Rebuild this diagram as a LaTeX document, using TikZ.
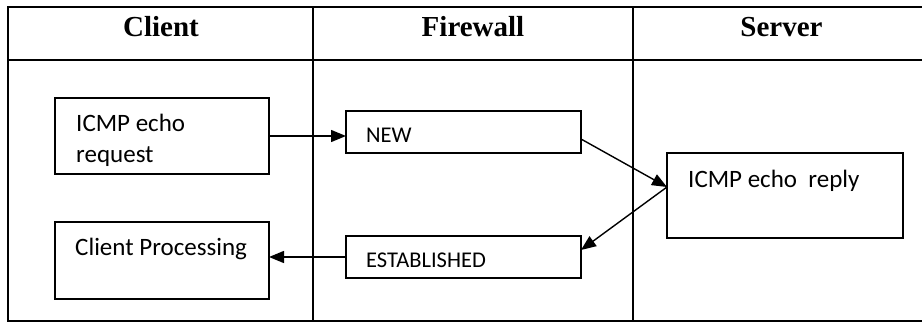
\documentclass[tikz,border=0pt]{standalone}
\usepackage{fontspec}
\setmainfont{Liberation Serif}
\newfontfamily\calibri{Carlito}
\usetikzlibrary{arrows.meta}
\begin{document}
\begin{tikzpicture}[x=1pt,y=-1pt,
  grid/.style={line width=2.2pt},
  box/.style={draw, line width=1.5pt, inner sep=0pt, outer sep=0pt, anchor=north west},
  head/.style={font=\fontsize{29}{34}\selectfont\bfseries, anchor=base, inner sep=0pt},
  big/.style={font=\calibri\fontsize{25}{30}\selectfont, anchor=base west, inner sep=0pt},
  small/.style={font=\calibri\fontsize{22.5}{27}\selectfont, anchor=base west, inner sep=0pt},
  arr/.style={line width=1.4pt, -{Triangle[length=15pt,width=12pt]}}
]
\useasboundingbox (0,0) rectangle (922,322);

% swimlane table
\draw[grid] (930,7) -- (8,7) -- (8,321) -- (930,321);
\draw[grid] (8,60) -- (930,60);
\draw[grid] (313,7) -- (313,321);
\draw[grid] (633,7) -- (633,321);

% lane headings
\node[head] (hclient) at (161,36) {Client};
\node[head] (hfw) at (473,36) {Firewall};
\node[head] (hsrv) at (781.5,36) {Server};

% step boxes
\node[box, minimum width=214pt, minimum height=76pt] (req) at (55,98) {};
\node[box, minimum width=235pt, minimum height=42pt] (new) at (346,111) {};
\node[box, minimum width=236pt, minimum height=85pt] (reply) at (667,153) {};
\node[box, minimum width=235pt, minimum height=42pt] (est) at (346,236) {};
\node[box, minimum width=214pt, minimum height=77pt] (proc) at (55,222) {};

% box texts
\node[big] (treq1) at ([xshift=21pt,yshift=-33pt]req.north west) {ICMP echo};
\node[big] (treq2) at ([xshift=21pt,yshift=-64pt]req.north west) {request};
\node[small] (tnew) at ([xshift=20pt,yshift=-31pt]new.north west) {NEW};
\node[big] (treply) at ([xshift=21pt,yshift=-34pt]reply.north west) {ICMP echo\ \ reply};
\node[small] (test) at ([xshift=20pt,yshift=-31pt]est.north west) {ESTABLISHED};
\node[big] (tproc) at ([xshift=20pt,yshift=-33pt]proc.north west) {Client Processing};

% packet flow
\coordinate (newout) at ([yshift=-7pt]new.east);
\coordinate (replyin) at ([yshift=8.5pt]reply.west);
\coordinate (estin) at ([yshift=7pt]est.east);
\draw[arr] (req.east) -- (req.east -| new.west);
\draw[arr] (newout) -- (replyin);
\draw[arr] (replyin) -- (estin);
\draw[arr] (est.west) -- (est.west -| proc.east);
\end{tikzpicture}
\end{document}
